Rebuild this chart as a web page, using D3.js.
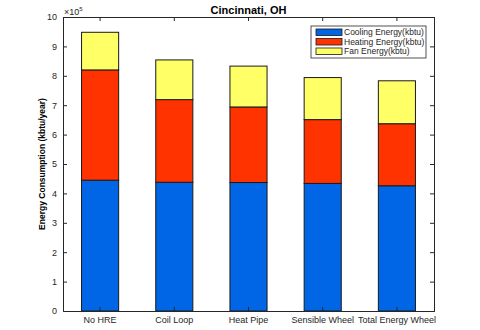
<!DOCTYPE html>
<html>
<head>
<meta charset="utf-8">
<script src="https://cdn.jsdelivr.net/npm/d3@7"></script>
<style>
  body { margin: 0; background: #fff; }
  text { font-family: "Liberation Sans", Arial, sans-serif; }
</style>
</head>
<body>
<div id="chart"></div>
<script>
const categories = ["No HRE", "Coil Loop", "Heat Pipe", "Sensible Wheel", "Total Energy Wheel"];
const cooling = [4.45, 4.38, 4.37, 4.34, 4.26];
const heating = [3.75, 2.81, 2.57, 2.17, 2.11];
const fan = [1.28, 1.35, 1.39, 1.43, 1.46];
const seriesNames = ["Cooling Energy(kbtu)", "Heating Energy(kbtu)", "Fan Energy(kbtu)"];
const seriesColors = ["#0066e6", "#ff3300", "#ffff66"];
const yTicks = [0, 1, 2, 3, 4, 5, 6, 7, 8, 9, 10];

const width = 480, height = 330;
const margin = {left: 63, right: 46, top: 17, bottom: 19};

const svg = d3.select("#chart").append("svg")
    .attr("width", width)
    .attr("height", height);

const x = d3.scaleBand()
    .domain(categories)
    .range([margin.left, width - margin.right])
    .paddingInner(0.5)
    .paddingOuter(0.25);

const y = d3.scaleLinear()
    .domain([0, 10])
    .range([height - margin.bottom, margin.top]);

const table = categories.map((c, i) => ({cat: c, s0: cooling[i], s1: heating[i], s2: fan[i]}));
const stacked = d3.stack().keys(["s0", "s1", "s2"])(table);

// bars
svg.append("g").selectAll("g")
    .data(stacked)
    .enter().append("g")
    .attr("fill", (d, i) => seriesColors[i])
    .selectAll("rect")
    .data(d => d)
    .enter().append("rect")
    .attr("x", d => x(d.data.cat))
    .attr("y", d => y(d[1]))
    .attr("width", x.bandwidth())
    .attr("height", d => y(d[0]) - y(d[1]))
    .attr("stroke", "#1a1a1a")
    .attr("stroke-width", 1);

const axisColor = "#262626";

// axes (ticks inward, box on)
const gl = svg.append("g").attr("transform", `translate(${margin.left},0)`)
    .call(d3.axisLeft(y).tickValues(yTicks).tickSize(-4).tickPadding(6).tickFormat(d3.format("d")));
const gr = svg.append("g").attr("transform", `translate(${width - margin.right},0)`)
    .call(d3.axisRight(y).tickValues(yTicks).tickSize(-4).tickFormat(""));
const gb = svg.append("g").attr("transform", `translate(0,${height - margin.bottom})`)
    .call(d3.axisBottom(x).tickSize(-4).tickPadding(6));
const gt = svg.append("g").attr("transform", `translate(0,${margin.top})`)
    .call(d3.axisTop(x).tickSize(-4).tickFormat(""));

[gl, gr, gb, gt].forEach(g => {
    g.select(".domain").attr("stroke", axisColor);
    g.selectAll(".tick line").attr("stroke", axisColor);
    g.selectAll(".tick text").attr("fill", axisColor).attr("font-size", 9)
        .attr("font-family", "Liberation Sans, Arial, sans-serif");
});
gl.select(".tick:first-of-type line").remove();
gr.select(".tick:first-of-type line").remove();

// exponent
const expo = svg.append("text")
    .attr("x", margin.left + 1)
    .attr("y", margin.top - 2)
    .attr("font-size", 9)
    .attr("fill", axisColor);
expo.append("tspan").text("\u00d710");
expo.append("tspan").attr("font-size", 6).attr("dy", -4).text("5");

// title
svg.append("text")
    .attr("x", (margin.left + width - margin.right) / 2)
    .attr("y", 14)
    .attr("text-anchor", "middle")
    .attr("font-size", 11)
    .attr("font-weight", "bold")
    .attr("fill", "#000")
    .text("Cincinnati, OH");

// y label
svg.append("text")
    .attr("transform", `translate(45,${(margin.top + height - margin.bottom) / 2}) rotate(-90)`)
    .attr("text-anchor", "middle")
    .attr("font-size", 8.5)
    .attr("font-weight", "bold")
    .attr("fill", "#000")
    .text("Energy Consumption (kbtu/year)");

// legend
const lg = svg.append("g").attr("transform", "translate(311,26)");
lg.append("rect")
    .attr("width", 115).attr("height", 32)
    .attr("fill", "#fff").attr("stroke", axisColor).attr("stroke-width", 0.8);
seriesNames.forEach((name, i) => {
    lg.append("rect")
        .attr("x", 5).attr("y", 3 + i * 9.5)
        .attr("width", 26).attr("height", 6.5)
        .attr("fill", seriesColors[i])
        .attr("stroke", "#1a1a1a").attr("stroke-width", 0.8);
    lg.append("text")
        .attr("x", 33).attr("y", 6.5 + i * 9.5)
        .attr("dy", "0.35em")
        .attr("font-size", 8.5)
        .attr("fill", axisColor)
        .text(name);
});
</script>
</body>
</html>
